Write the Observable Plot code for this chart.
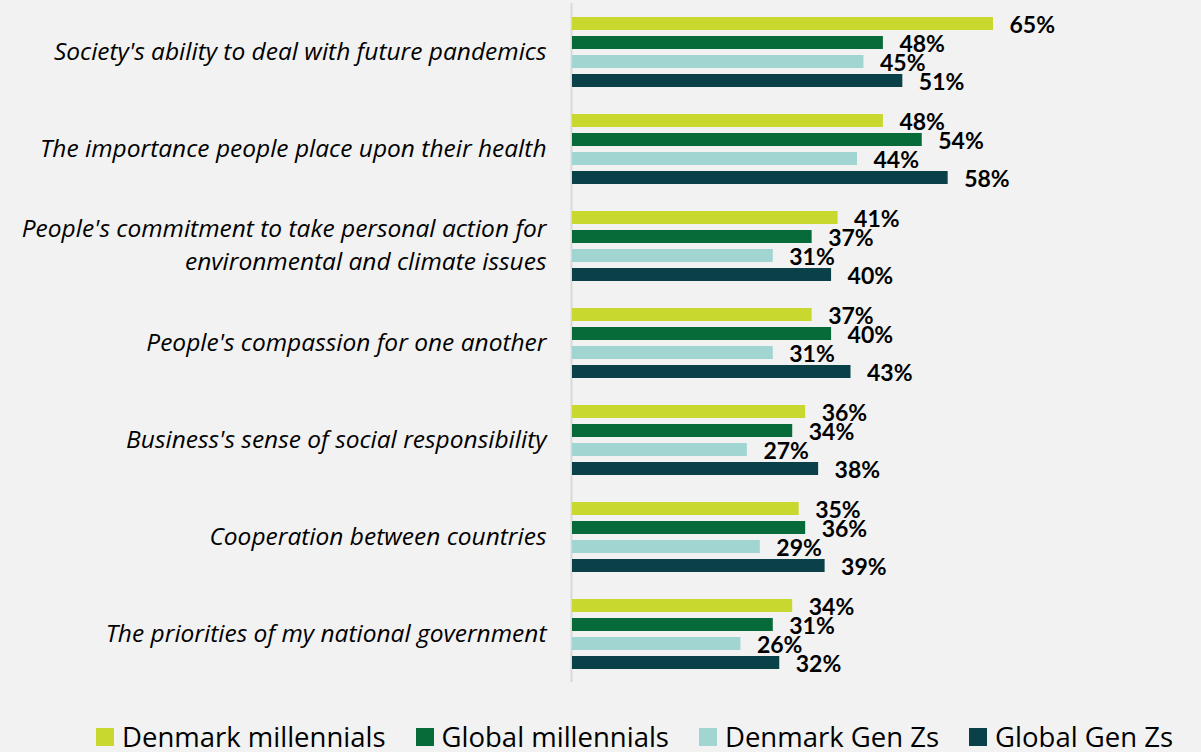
<!DOCTYPE html>
<html>
<head>
<meta charset="utf-8">
<script src="https://cdn.jsdelivr.net/npm/d3@7"></script>
<script src="https://cdn.jsdelivr.net/npm/@observablehq/plot@0.6"></script>
<style>
  html, body { margin: 0; padding: 0; background: #f2f2f2; }
  #chart { width: 1201px; }
  .legend { display: flex; justify-content: flex-start; align-items: center; margin-top: 22px; padding-left: 96px; font-family: "Open Sans", sans-serif; font-size: 27.5px; color: #000; line-height: 30px; height: 30px; white-space: nowrap; }
  .legend .item { display: flex; align-items: center; margin-right: 30px; }
  .legend .sw { width: 18px; height: 18px; margin-right: 8px; flex: none; }
</style>
</head>
<body>
<div id="chart"></div>
<script>
const categories = [
  "Society's ability to deal with future pandemics",
  "The importance people place upon their health",
  "People's commitment to take personal action for\nenvironmental and climate issues",
  "People's compassion for one another",
  "Business's sense of social responsibility",
  "Cooperation between countries",
  "The priorities of my national government"
];
const series = ["Denmark millennials", "Global millennials", "Denmark Gen Zs", "Global Gen Zs"];
const colors = ["#c8d82e", "#066b39", "#a0d5d1", "#0a4048"];
const denmarkMillennials = [65, 48, 41, 37, 36, 35, 34];
const globalMillennials  = [48, 54, 37, 40, 34, 36, 31];
const denmarkGenZs       = [45, 44, 31, 31, 27, 29, 26];
const globalGenZs        = [51, 58, 40, 43, 38, 39, 32];

const valueArrays = [denmarkMillennials, globalMillennials, denmarkGenZs, globalGenZs];
const data = [];
categories.forEach((c, i) => {
  series.forEach((s, j) => {
    data.push({category: c, series: s, value: valueArrays[j][i]});
  });
});

const plot = Plot.plot({
  width: 1201,
  height: 700,
  marginLeft: 572,
  marginRight: 208,
  marginTop: 2,
  marginBottom: 17,
  style: {background: "#f2f2f2", fontFamily: "Lato, sans-serif"},
  x: {domain: [0, 65], axis: null},
  y: {domain: series, axis: null, paddingInner: 0.327, paddingOuter: 0.68},
  fy: {domain: categories, axis: null, padding: 0},
  color: {domain: series, range: colors},
  marks: [
    Plot.ruleX([0], {stroke: "#d9d9d9", strokeWidth: 2, dx: -1}),
    Plot.barX(data, {fy: "category", y: "series", x: "value", fill: "series"}),
    Plot.text(data, {
      fy: "category", y: "series", x: "value",
      text: d => d.value + "%",
      textAnchor: "start", dx: 16, dy: 2,
      fontWeight: "bold", fontSize: 23, fill: "#000"
    }),
    Plot.text(categories, {
      fy: d => d, text: d => d,
      frameAnchor: "left", textAnchor: "end", dx: -26, dy: -3,
      fontFamily: "Open Sans, sans-serif",
      fontStyle: "italic", fontSize: 24.5, lineHeight: 1.35, fill: "#000"
    })
  ]
});
document.getElementById("chart").appendChild(plot);

const legend = document.createElement("div");
legend.className = "legend";
series.forEach((s, i) => {
  const item = document.createElement("div");
  item.className = "item";
  const sw = document.createElement("div");
  sw.className = "sw";
  sw.style.background = colors[i];
  const lab = document.createElement("span");
  lab.textContent = s;
  item.appendChild(sw);
  item.appendChild(lab);
  legend.appendChild(item);
});
document.getElementById("chart").appendChild(legend);
</script>
</body>
</html>
